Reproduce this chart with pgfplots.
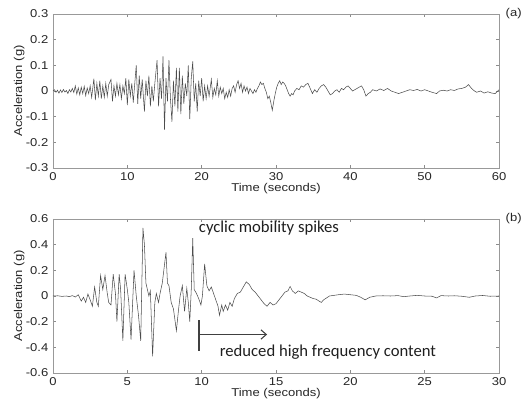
\documentclass[border=0pt]{standalone}
\usepackage{fontspec}
\setmainfont{Liberation Sans}[FakeStretch=1.15]
\newfontfamily\annfont{Carlito}
\usepackage{pgfplots}
\pgfplotsset{compat=1.18}
\usetikzlibrary{arrows.meta}

\pgfplotsset{
  quake/.style={
    width=334.5pt, height=115.5pt, scale only axis,
    axis line style={black!40},
    every tick/.style={black!45, line width=0.4pt},
    major tick length=2.5pt,
    tick align=inside,
    xtick pos=both, ytick pos=both,
    tick label style={font=\fontsize{8.5}{10}\selectfont, text=black!85},
    label style={font=\fontsize{8.5}{10}\selectfont, text=black!85},
    /pgf/number format/assume math mode=true,
    ylabel={Acceleration (g)},
    xlabel={Time (seconds)},
    ylabel style={at={(axis description cs:-0.076,0.5)}, anchor=center},
    xlabel style={at={(axis description cs:0.5,-0.132)}, anchor=center},
    clip=false,
  },
  trace/.style={black!70, line width=0.4pt, mark=none},
}

\begin{document}
\begin{tikzpicture}
% (a) free field record
\begin{axis}[quake,
  xmin=0, xmax=60, ymin=-0.3, ymax=0.3,
  xtick={0,10,...,60},
  ytick={-0.3,-0.2,-0.1,0,0.1,0.2,0.3},
  yticklabels={-0.3,-0.2,-0.1,0,0.1,0.2,0.3},
]
\addplot[trace] coordinates {
(0,0) (0.2,0.005) (0.4,-0.005) (0.6,0.003) (0.8,-0.008) (1.0,0.004) (1.2,-0.006)
(1.4,0.006) (1.6,-0.004) (1.8,0.002) (2.0,-0.01) (2.2,0.005) (2.4,-0.004) (2.6,0.01)
(2.8,-0.006) (3.0,0.02) (3.2,-0.012) (3.4,0.012) (3.6,-0.015) (3.8,0.015) (4.0,-0.01)
(4.2,0.018) (4.4,-0.018) (4.6,0.012) (4.8,-0.01) (5.0,0.02) (5.2,-0.025) (5.5,0.048)
(5.7,-0.035) (5.9,0.03) (6.1,-0.02) (6.3,0.04) (6.5,-0.03) (6.7,0.02) (6.9,-0.025)
(7.1,0.03) (7.3,-0.02) (7.5,0.025) (7.8,0.045) (8.0,-0.04) (8.2,0.02) (8.4,-0.02)
(8.6,0.03) (8.8,-0.015) (9.0,0.025) (9.2,-0.03) (9.4,0.02) (9.6,-0.01) (9.8,0.05)
(10.0,-0.055) (10.2,0.045) (10.4,-0.02) (10.6,0.03) (10.8,-0.045) (11.0,0.03) (11.2,0.10)
(11.4,-0.05) (11.6,0.06) (11.8,-0.03) (12.0,0.045) (12.3,-0.08) (12.5,0.04) (12.7,-0.02)
(12.9,0.06) (13.1,-0.06) (13.3,0.02) (13.5,-0.04) (13.7,0.03) (14.0,0.12) (14.2,-0.06)
(14.4,0.05) (14.6,-0.03) (14.8,0.135) (15.0,-0.15) (15.2,0.05) (15.4,-0.04) (15.6,0.12)
(15.8,-0.03) (16.0,-0.12) (16.2,0.04) (16.4,-0.06) (16.6,0.09) (16.8,-0.08) (17.0,0.09)
(17.2,-0.09) (17.4,0.06) (17.6,-0.05) (17.8,0.03) (18.0,-0.02) (18.2,0.10) (18.4,-0.11)
(18.6,0.05) (18.8,0.115) (19.0,-0.04) (19.2,0.03) (19.4,-0.08) (19.6,0.04) (19.8,-0.02)
(20.0,0.05) (20.2,-0.04) (20.4,0.02) (20.6,-0.03) (20.8,0.02) (21.0,-0.02) (21.3,0.045)
(21.5,-0.025) (21.7,0.01) (21.9,-0.015) (22.1,0.04) (22.3,-0.02) (22.5,0.015) (22.7,-0.01)
(22.9,0.01) (23.1,-0.03) (23.3,-0.005) (23.5,-0.025) (23.7,0.005) (23.9,-0.02) (24.1,0.01)
(24.3,0.02) (24.5,-0.005) (24.7,0.025) (24.9,0.04) (25.1,0.01) (25.3,0.03) (25.5,-0.005)
(25.7,0.02) (25.9,0.0) (26.1,0.015) (26.3,-0.01) (26.5,0.01) (26.7,0.0) (26.9,-0.01)
(27.1,0.005) (27.3,-0.005) (27.5,0.01) (27.7,0.02) (27.9,0.035) (28.1,0.025) (28.3,0.03)
(28.5,0.01) (28.7,-0.005) (28.9,-0.03) (29.1,-0.02) (29.3,-0.045) (29.5,-0.075) (29.7,-0.04)
(29.9,-0.01) (30.1,0.015) (30.3,0.03) (30.5,0.04) (30.7,0.025) (30.9,0.035) (31.1,0.03)
(31.3,0.02) (31.5,0.005) (31.7,-0.01) (31.9,-0.02) (32.1,-0.01) (32.3,-0.015) (32.5,0.0)
(32.8,0.01) (33.1,0.005) (33.4,0.02) (33.7,0.015) (34.0,0.025) (34.3,0.03) (34.6,0.01)
(34.9,-0.01) (35.2,0.005) (35.5,-0.005) (35.8,0.01) (36.1,0.02) (36.4,0.025) (36.7,0.015)
(37.0,0.0) (37.3,-0.015) (37.6,-0.01) (37.9,0.0) (38.2,0.005) (38.5,-0.005) (38.8,0.01)
(39.1,0.005) (39.4,0.015) (39.7,0.02) (40.0,0.01) (40.3,0.0) (40.6,0.005) (40.9,0.01)
(41.2,0.015) (41.5,0.02) (41.8,0.005) (42.1,-0.02) (42.4,-0.01) (42.7,-0.005) (43.0,0.005)
(43.5,0.0) (44.0,0.008) (44.5,0.002) (45.0,0.01) (45.5,0.0) (46.0,-0.005) (46.5,-0.01)
(47.0,-0.005) (47.5,0.0) (48.0,0.005) (48.5,0.002) (49.0,0.006) (49.5,0.0) (50.0,0.005)
(50.5,0.0) (51.0,-0.005) (51.6,-0.01) (52.0,0.0) (52.5,0.003) (53.0,0.0) (53.5,0.005)
(54.0,0.002) (54.5,0.008) (55.0,0.01) (55.5,0.015) (55.9,0.025) (56.3,0.01) (56.7,0.0)
(57.0,-0.005) (57.5,0.0) (58.0,-0.008) (58.5,-0.003) (59.0,-0.008) (59.5,-0.01) (60.0,0.005)
};
\node[anchor=west, font=\fontsize{8.5}{10}\selectfont, text=black!85, xshift=1.5pt]
  at (rel axis cs:1,1) {(a)};
\end{axis}

% (b) liquefied site record
\begin{axis}[quake,
  at={(0,-38.25pt)}, anchor=north west,
  xmin=0, xmax=30, ymin=-0.6, ymax=0.6,
  xtick={0,5,...,30},
  ytick={-0.6,-0.4,-0.2,0,0.2,0.4,0.6},
  yticklabels={-0.6,-0.4,-0.2,0,0.2,0.4,0.6},
]
\addplot[trace] coordinates {
(0,0) (0.3,0.002) (0.6,-0.003) (0.9,0.0) (1.1,-0.005) (1.3,0.003) (1.5,-0.008)
(1.7,0.01) (1.9,-0.04) (2.05,-0.01) (2.2,-0.05) (2.35,0.015) (2.5,-0.03) (2.65,-0.08)
(2.8,0.07) (2.95,-0.05) (3.05,-0.08) (3.2,0.16) (3.35,0.05) (3.5,0.16) (3.65,0.02)
(3.75,-0.05) (3.9,-0.07) (4.05,0.17) (4.2,0.02) (4.3,-0.2) (4.45,0.17) (4.55,0.05)
(4.7,-0.35) (4.85,0.17) (5.0,0.05) (5.1,-0.05) (5.25,-0.34) (5.45,0.2) (5.6,0.0)
(5.75,-0.15) (5.9,-0.35) (6.05,0.53) (6.15,0.4) (6.25,0.1) (6.35,0.05) (6.45,0.0)
(6.55,0.04) (6.7,-0.47) (6.85,-0.05) (6.95,0.02) (7.1,-0.05) (7.2,0.02) (7.35,0.1)
(7.6,0.34) (7.7,0.1) (7.8,0.08) (7.95,-0.05) (8.1,-0.1) (8.3,-0.27) (8.45,-0.1)
(8.55,0.0) (8.7,0.08) (8.85,-0.12) (9.0,0.06) (9.1,-0.05) (9.2,-0.2) (9.3,0.05)
(9.4,0.45) (9.5,0.05) (9.65,0.02) (9.8,-0.02) (9.95,-0.07) (10.05,0.0) (10.2,0.25)
(10.35,0.08) (10.5,0.04) (10.65,0.07) (10.8,0.02) (10.95,-0.03) (11.1,-0.08) (11.2,-0.15)
(11.35,-0.07) (11.45,-0.12) (11.6,-0.07) (11.75,-0.11) (11.9,-0.05) (12.05,-0.08) (12.2,-0.02)
(12.4,0.02) (12.6,0.03) (12.8,0.07) (13.0,0.11) (13.2,0.09) (13.4,0.05) (13.6,0.03)
(13.8,0.0) (14.0,-0.03) (14.2,-0.06) (14.4,-0.08) (14.6,-0.05) (14.8,-0.07) (15.0,-0.06)
(15.2,-0.03) (15.4,0.0) (15.6,0.03) (15.8,0.04) (15.95,0.075) (16.1,0.04) (16.3,0.02)
(16.5,0.04) (16.7,0.03) (16.9,0.02) (17.1,0.0) (17.3,-0.01) (17.5,-0.02) (17.7,-0.025)
(17.9,-0.04) (18.05,-0.05) (18.2,-0.03) (18.4,-0.015) (18.6,0.0) (18.9,0.005) (19.2,0.01)
(19.6,0.015) (20.0,0.01) (20.4,0.005) (20.7,-0.01) (21.0,-0.03) (21.3,-0.01) (21.7,0.0)
(22.2,0.002) (22.7,0.0) (23.2,0.003) (23.6,-0.005) (24.0,0.0) (24.5,0.005) (25.0,0.0)
(25.5,-0.002) (25.8,-0.015) (26.1,0.003) (26.6,0.0) (27.0,0.002) (27.5,-0.002) (28.0,-0.01)
(28.4,0.0) (28.9,0.004) (29.4,-0.002) (30.0,0.0)
};
\node[anchor=west, font=\fontsize{8.5}{10}\selectfont, text=black!85, xshift=1.5pt]
  at (rel axis cs:1,1) {(b)};
\node[anchor=west, inner sep=0pt, font=\annfont\fontsize{12.5}{14}\selectfont, text=black!88]
  at (axis cs:9.8,0.53) {cyclic mobility spikes};
\node[anchor=west, inner sep=0pt, font=\annfont\fontsize{12.5}{14}\selectfont, text=black!88]
  at (axis cs:11.2,-0.435) {reduced high frequency content};
\draw[black!75, line width=0.8pt] (axis cs:9.82,-0.19) -- (axis cs:9.82,-0.43);
\draw[black!75, line width=0.8pt, -{Straight Barb[length=4pt,width=7pt]}]
  (axis cs:9.82,-0.30) -- (axis cs:14.4,-0.30);
\end{axis}

% fix page to the reference proportions
\pgfresetboundingbox
\path (-39.75pt,126pt) rectangle (352.5pt,-180.75pt);
\end{tikzpicture}
\end{document}
